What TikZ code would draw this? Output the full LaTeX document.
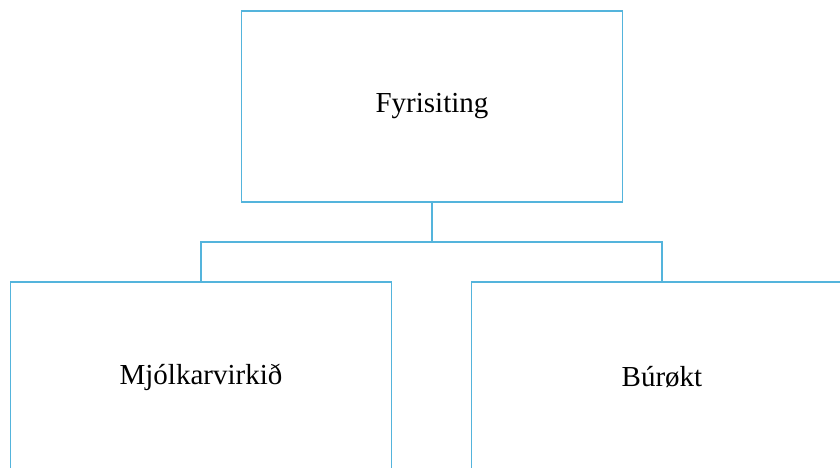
\documentclass[tikz,border=0pt]{standalone}
\usepackage{fontspec}
\setmainfont{Liberation Serif}
\definecolor{boxblue}{RGB}{84,180,220}
\begin{document}
\begin{tikzpicture}[x=1pt,y=-1pt,
  orgbox/.style={draw=boxblue,line width=1.5pt,minimum width=381pt,minimum height=191pt,inner sep=0pt,font=\fontsize{29}{34}\selectfont},
  link/.style={draw=boxblue,line width=1.5pt}]
\useasboundingbox (0,0) rectangle (840,468);
\clip (0,0) rectangle (840,468);
\node[orgbox] (top) at (432,106.5) {Fyrisiting};
\node[orgbox] (left) at (201,377.5) {Mjólkarvirkið};
\node[orgbox] (right) at (662,377.5) {Búrøkt};
\coordinate (mid) at (432,242);
\draw[link] (top.south) -- (mid);
\draw[link] (mid) -| (left.north);
\draw[link] (mid) -| (right.north);
\end{tikzpicture}
\end{document}
